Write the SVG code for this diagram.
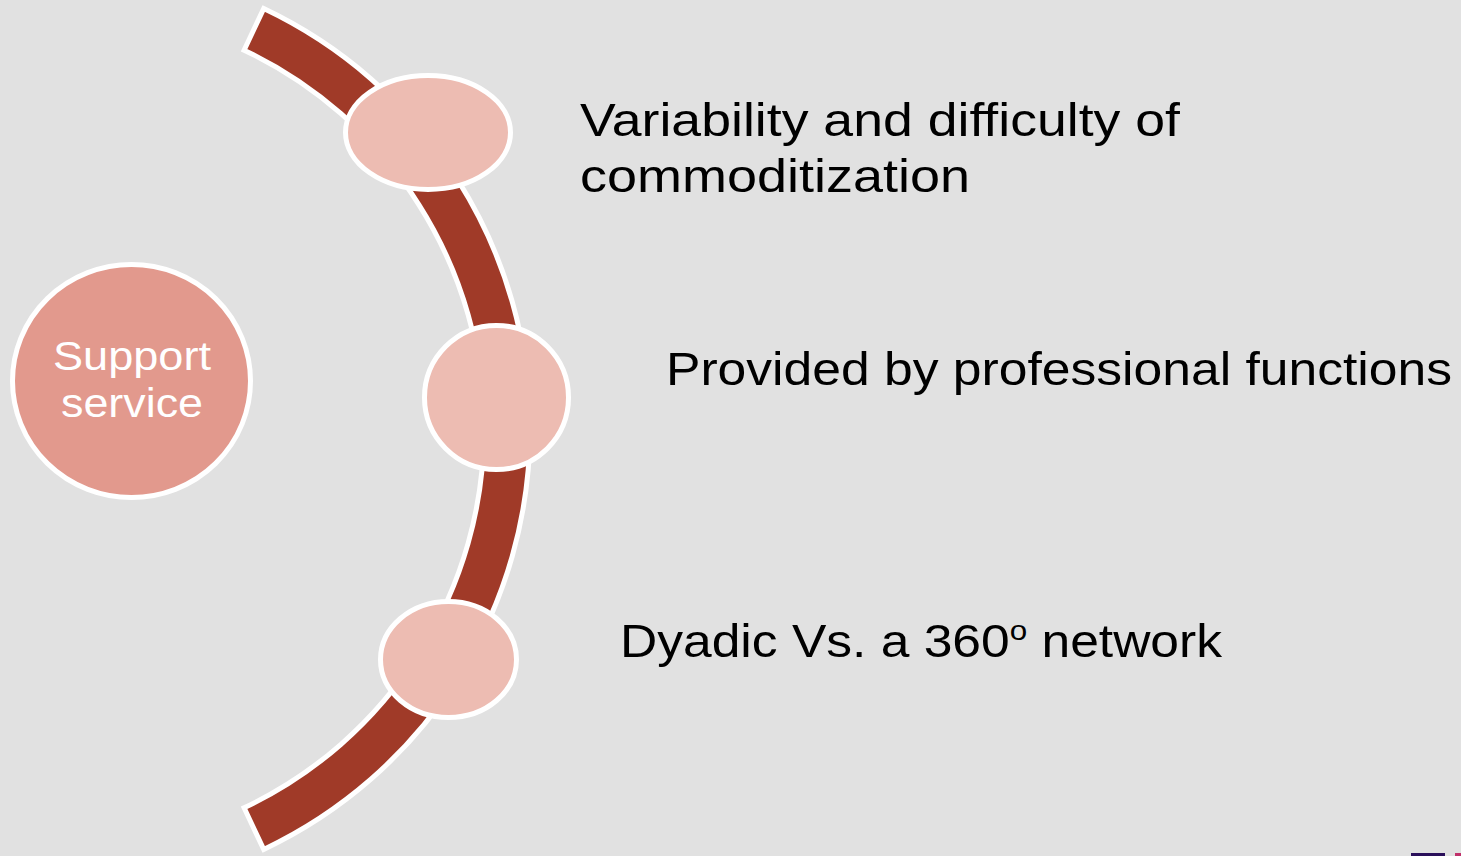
<svg xmlns="http://www.w3.org/2000/svg" width="1461" height="856" viewBox="0 0 1461 856">
<style>
.band{fill:#a03a28;stroke:#ffffff;stroke-width:5;stroke-linejoin:miter}
.dot{fill:#edbcb2;stroke:#ffffff;stroke-width:5}
.hub{fill:#e2998d;stroke:#ffffff;stroke-width:5}
.lbl{font-family:"Liberation Sans",Arial,sans-serif;font-size:46px;fill:#000000}
.hubt{font-family:"Liberation Sans",Arial,sans-serif;font-size:40px;fill:#ffffff}
</style>
<rect x="0" y="0" width="1461" height="856" fill="#e1e1e1"/>
<g id="connectors">
<path class="band" d="M 263.7 8.6 A 465 465 0 0 1 263.7 849.4 L 244.1 807.8 A 419 419 0 0 0 244.1 50.2 Z"/>
</g>
<g id="hub">
<ellipse class="hub" cx="131.5" cy="381" rx="119" ry="116.5"/>
<text class="hubt" x="53" y="370" textLength="158" lengthAdjust="spacingAndGlyphs">Support</text>
<text class="hubt" x="61" y="417" textLength="142" lengthAdjust="spacingAndGlyphs">service</text>
</g>
<g id="node1">
<ellipse class="dot" cx="428" cy="132.5" rx="82.5" ry="57"/>
<text class="lbl" x="580" y="136" textLength="600" lengthAdjust="spacingAndGlyphs">Variability and difficulty of</text>
<text class="lbl" x="580" y="192" textLength="390" lengthAdjust="spacingAndGlyphs">commoditization</text>
</g>
<g id="node2">
<ellipse class="dot" cx="496.5" cy="397.5" rx="72" ry="72"/>
<text class="lbl" x="666" y="385" textLength="786" lengthAdjust="spacingAndGlyphs">Provided by professional functions</text>
</g>
<g id="node3">
<ellipse class="dot" cx="448.5" cy="659.5" rx="68" ry="58"/>
<text class="lbl" x="620" y="657" textLength="602" lengthAdjust="spacingAndGlyphs">Dyadic Vs. a 360<tspan font-size="28" dy="-17">o</tspan><tspan dy="17"> network</tspan></text>
</g>
<rect x="1411" y="853" width="34" height="3" fill="#2a0f5a"/>
<rect x="1455" y="853" width="6" height="3" fill="#c0306a"/>
</svg>
